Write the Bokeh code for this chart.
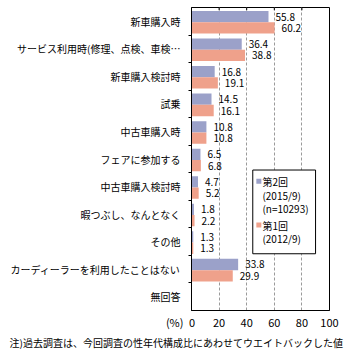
from bokeh.plotting import figure
from bokeh.models import Range1d, FixedTicker, Label, ColumnDataSource, Title
from bokeh.core.properties import value
from bokeh.embed import file_html
from bokeh.resources import INLINE

categories = [
    "新車購入時",
    "サービス利用時(修理、点検、車検…",
    "新車購入検討時",
    "試乗",
    "中古車購入時",
    "フェアに参加する",
    "中古車購入検討時",
    "暇つぶし、なんとなく",
    "その他",
    "カーディーラーを利用したことはない",
    "無回答",
]
v2015 = [55.8, 36.4, 16.8, 14.5, 10.8, 6.5, 4.7, 1.8, 1.3, 33.8, None]
v2012 = [60.2, 38.8, 19.1, 16.1, 10.8, 6.8, 5.2, 2.2, 1.3, 29.9, None]
x_ticks = [0, 20, 40, 60, 80, 100]
legend_lines = ["第2回", "(2015/9)", "(n=10293)", "第1回", "(2012/9)"]
note = "注)過去調査は、今回調査の性年代構成比にあわせてウエイトバックした値"
unit_label = "(%)"

BLUE = "#9BA1C9"
SALMON = "#EFA18B"
FONT = "Noto Sans CJK JP"
n = len(categories)

p = figure(width=361, height=349, output_backend="svg", toolbar_location=None,
           x_range=Range1d(0, 100), y_range=Range1d(n, 0),
           min_border_left=191, min_border_right=32, min_border_top=7, min_border_bottom=37)
p.outline_line_color = "black"
p.background_fill_color = "white"
p.border_fill_color = "white"

# x axis; the unit label "(%)" sits left of the 0 tick label
p.xaxis.ticker = FixedTicker(ticks=x_ticks)
p.xaxis.major_label_overrides = {0: unit_label + "\u2002" + "0" + "\u3000\u3000"}
p.xaxis.major_tick_out = 0
p.xaxis.major_tick_in = 0
p.xaxis.minor_tick_out = 0
p.xaxis.minor_tick_in = 0
p.xaxis.axis_line_color = "black"
p.xaxis.major_label_standoff = 3
p.xaxis.major_label_text_font = FONT
p.xaxis.major_label_text_font_size = "11px"
p.xaxis.major_label_text_color = "black"

# y axis: labels at band centres, small ticks at band boundaries
centers = [i + 0.5 for i in range(n)]
p.yaxis.ticker = FixedTicker(ticks=centers, minor_ticks=list(range(1, n)))
p.yaxis.major_label_overrides = {c: lab for c, lab in zip(centers, categories)}
p.yaxis.major_tick_out = 0
p.yaxis.major_tick_in = 0
p.yaxis.minor_tick_out = 3
p.yaxis.minor_tick_in = 0
p.yaxis.minor_tick_line_color = "black"
p.yaxis.axis_line_color = "black"
p.yaxis.major_label_standoff = 8
p.yaxis.major_label_text_font = FONT
p.yaxis.major_label_text_font_size = "10px"
p.yaxis.major_label_text_color = "black"

p.xgrid.ticker = FixedTicker(ticks=x_ticks[1:-1])
p.xgrid.grid_line_color = "#9a9a9a"
p.xgrid.grid_line_dash = "3 2"
p.ygrid.grid_line_color = None

# small inside ticks at the top edge
p.segment(x0=x_ticks[1:-1], x1=x_ticks[1:-1], y0=[0] * 4, y1=[0.1] * 4,
          line_color="black", line_width=1)

# bars
idx_b = [i for i, v in enumerate(v2015) if v is not None]
idx_s = [i for i, v in enumerate(v2012) if v is not None]
src_b = ColumnDataSource(dict(y=[i + 0.33 for i in idx_b], v=[v2015[i] for i in idx_b],
                              t=[f"{v2015[i]:.1f}" for i in idx_b]))
src_s = ColumnDataSource(dict(y=[i + 0.74 for i in idx_s], v=[v2012[i] for i in idx_s],
                              t=[f"{v2012[i]:.1f}" for i in idx_s]))
p.hbar(y="y", left=0, right="v", height=0.41, fill_color=BLUE, line_color=None, source=src_b)
p.hbar(y="y", left=0, right="v", height=0.41, fill_color=SALMON, line_color=None, source=src_s)

for src in (src_b, src_s):
    p.text(x="v", y="y", text="t", x_offset=7, text_align="left", text_baseline="middle",
           text_font=value(FONT), text_font_size=value("10px"), text_color="black", source=src)

# legend box
p.quad(left=[44.4], right=[89.9], top=[5.90], bottom=[8.94], fill_color="white",
       line_color="black", line_width=1)
p.scatter(x=[48.8, 48.8], y=[6.31, 7.90], marker="square", size=5,
          fill_color=[BLUE, SALMON], line_color=None)
for txt, yy in zip(legend_lines, [6.31, 6.82, 7.28, 7.90, 8.40]):
    p.add_layout(Label(x=51.4, y=yy, text=txt, text_align="left", text_baseline="middle",
                       text_font=FONT, text_font_size="10px", text_color="black"))

# note below the axis
p.add_layout(Title(text=note, align="left", offset=-182, standoff=0,
                   text_font=FONT, text_font_size="10px", text_font_style="normal",
                   text_color="black"), "below")

open("out.html", "w").write(file_html(p, INLINE))
